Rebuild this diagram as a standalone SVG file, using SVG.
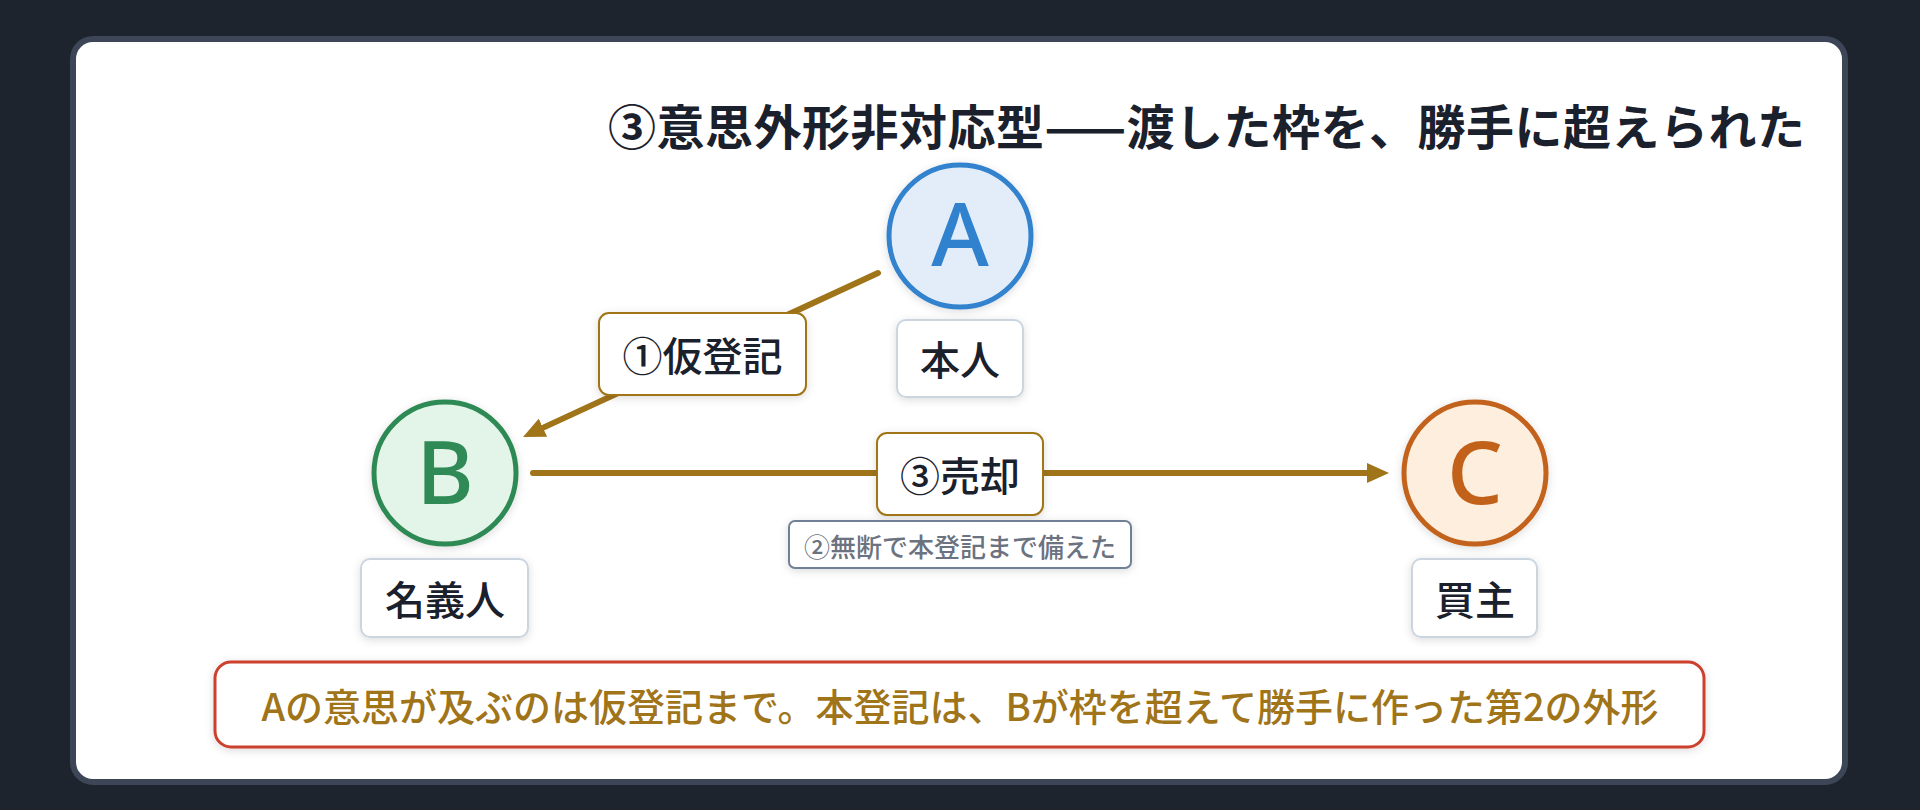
<svg xmlns="http://www.w3.org/2000/svg" width="1920" height="810" viewBox="0 0 1920 810">
  <defs>
    <filter id="sh" x="-20%" y="-20%" width="140%" height="150%">
      <feDropShadow dx="0" dy="2" stdDeviation="4" flood-color="#000" flood-opacity="0.14"/>
    </filter>
    <marker id="arr" markerUnits="userSpaceOnUse" markerWidth="22" markerHeight="20" viewBox="0 0 22 20" refX="8" refY="10" orient="auto">
      <path d="M0,0 L22,10 L0,20 z" fill="#a07419"/>
    </marker>
    <style>
      text { font-family: "Noto Sans CJK JP", "Noto Sans", sans-serif; dominant-baseline: central; text-anchor: middle; }
      .title { font-size: 48px; font-weight: 700; fill: #1a202c; text-anchor: start; }
      .letter { font-family: "Noto Sans", "Noto Sans CJK JP", sans-serif; font-size: 88px; font-weight: 500; }
      .role { fill: #ffffff; stroke: #cbd5e0; stroke-width: 2; }
      .roletxt { font-size: 40px; font-weight: 500; fill: #1a202c; }
      .edge { stroke: #a07419; stroke-width: 6; fill: none; stroke-linecap: round; }
      .elabel { fill: #ffffff; stroke: #a07419; stroke-width: 2; }
      .elabeltxt { font-size: 40px; font-weight: 500; fill: #1a202c; }
      .sub { fill: #ffffff; stroke: #718096; stroke-width: 2; }
      .subtxt { font-size: 26px; font-weight: 500; fill: #6b7280; }
      .note { fill: #ffffff; stroke: #cc3f2e; stroke-width: 3; }
      .notetxt { font-size: 38px; font-weight: 500; fill: #a07419; }
    </style>
  </defs>

  <rect x="0" y="0" width="1920" height="810" fill="#1e242e"/>
  <rect x="73" y="39" width="1772" height="743" rx="20" fill="#ffffff" stroke="#3d4657" stroke-width="6"/>

  <text class="title" x="608" y="124" textLength="1197" lengthAdjust="spacing">③意思外形非対応型——渡した枠を、勝手に超えられた</text>

  <g id="connectors">
    <line class="edge" x1="878" y1="273" x2="535.7" y2="431.1" marker-end="url(#arr)"/>
    <line class="edge" x1="533" y1="473" x2="1375" y2="473" marker-end="url(#arr)"/>
  </g>

  <g id="label-kari">
    <rect class="elabel" x="599" y="313" width="207" height="82" rx="10" filter="url(#sh)"/>
    <text class="elabeltxt" x="702.5" y="354">①仮登記</text>
  </g>

  <g id="label-sale">
    <rect class="elabel" x="877" y="433" width="166" height="82" rx="10" filter="url(#sh)"/>
    <text class="elabeltxt" x="960" y="474">③売却</text>
  </g>

  <g id="label-hon">
    <rect class="sub" x="789" y="521" width="342" height="47" rx="6" filter="url(#sh)"/>
    <text class="subtxt" x="960" y="545">②無断で本登記まで備えた</text>
  </g>

  <g id="node-A">
    <circle cx="960" cy="236" r="71" fill="#e3edf9" stroke="#3182ce" stroke-width="5" filter="url(#sh)"/>
    <text class="letter" x="960" y="232" fill="#3182ce">A</text>
    <rect class="role" x="897" y="320" width="126" height="77" rx="9" filter="url(#sh)"/>
    <text class="roletxt" x="960" y="358">本人</text>
  </g>

  <g id="node-B">
    <circle cx="445" cy="473" r="71" fill="#e3f5e8" stroke="#2f8a55" stroke-width="5" filter="url(#sh)"/>
    <text class="letter" x="445" y="470" fill="#2f8a55">B</text>
    <rect class="role" x="361" y="559" width="167" height="78" rx="9" filter="url(#sh)"/>
    <text class="roletxt" x="445" y="598">名義人</text>
  </g>

  <g id="node-C">
    <circle cx="1475" cy="473" r="71" fill="#fdeedd" stroke="#c2621a" stroke-width="5" filter="url(#sh)"/>
    <text class="letter" x="1475" y="470" fill="#c2621a">C</text>
    <rect class="role" x="1412" y="559" width="125" height="78" rx="9" filter="url(#sh)"/>
    <text class="roletxt" x="1475" y="598">買主</text>
  </g>

  <g id="note">
    <rect class="note" x="215" y="662" width="1489" height="85" rx="16" filter="url(#sh)"/>
    <text class="notetxt" x="960" y="704">Aの意思が及ぶのは仮登記まで。本登記は、Bが枠を超えて勝手に作った第2の外形</text>
  </g>
</svg>
